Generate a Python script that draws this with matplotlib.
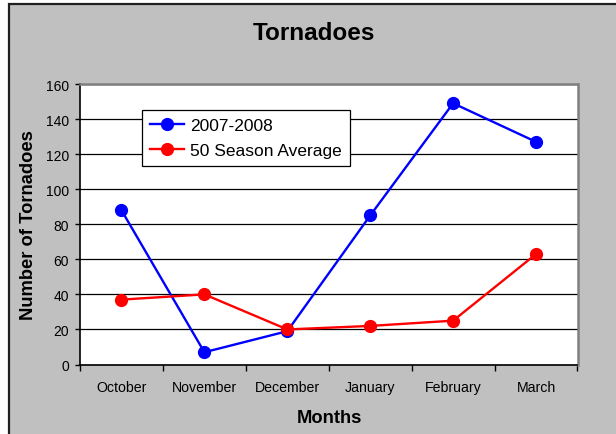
import numpy as np
import matplotlib
matplotlib.use('Agg')
import matplotlib.pyplot as plt
from matplotlib.patches import Rectangle

plt.rcParams['font.family'] = ['Liberation Sans', 'DejaVu Sans']

months = ['October', 'November', 'December', 'January', 'February', 'March']
season_0708 = [88, 7, 19, 85, 149, 127]
season_avg = [37, 40, 20, 22, 25, 63]

W, H = 616, 435
fig = plt.figure(figsize=(W / 100, H / 100), dpi=100)
fig.patch.set_facecolor('white')

# grey chart area with dark frame (only top/left edges visible)
bg = Rectangle((9 / W, -0.05), 1.1, (H - 5) / H + 0.05, transform=fig.transFigure,
               facecolor='#c0c0c0', edgecolor='#202020', linewidth=1.6, zorder=-10)
fig.patches.append(bg)

ax = fig.add_axes([80 / W, (H - 365.5) / H, 497.5 / W, 280.5 / H])
ax.set_facecolor('white')

x = np.arange(len(months)) + 0.5
ax.plot(x, season_0708, color='#0000ff', lw=1.7, marker='o', ms=8.5,
        label='2007-2008', zorder=3)
ax.plot(x, season_avg, color='#ff0000', lw=1.7, marker='o', ms=8.5,
        label='50 Season Average', zorder=3)

ax.set_xlim(0, len(months))
ax.set_ylim(0, 160)
ax.set_yticks(np.arange(0, 161, 20))
ax.yaxis.grid(True, color='black', lw=0.9)
ax.set_axisbelow(True)

# category boundaries get the ticks, labels sit between them
ax.set_xticks(np.arange(0, len(months) + 1))
ax.set_xticklabels([])
ax.set_xticks(x, minor=True)
ax.set_xticklabels(months, minor=True)
ax.tick_params(axis='x', which='minor', length=0, pad=11.5, labelsize=10.2)
ax.tick_params(axis='x', which='major', length=4, width=1, direction='out')
ax.tick_params(axis='y', length=3.5, width=1, direction='out', pad=4.5, labelsize=10)

for s in ['left', 'bottom']:
    ax.spines[s].set_color('black')
    ax.spines[s].set_linewidth(1.2)
for s in ['top', 'right']:
    ax.spines[s].set_color('#808080')
    ax.spines[s].set_linewidth(1.8)

leg = ax.legend(loc='upper left', bbox_to_anchor=(0.124, 0.908), fontsize=12.5,
                frameon=True, fancybox=False, framealpha=1, edgecolor='black',
                borderpad=0.45, handlelength=2.0, handletextpad=0.35,
                labelspacing=0.6, borderaxespad=0)
leg.get_frame().set_linewidth(0.9)

fig.text(314 / W, (H - 33) / H, 'Tornadoes', ha='center', va='center',
         fontsize=17.5, fontweight='bold')
fig.text(329 / W, (H - 419) / H, 'Months', ha='center', va='center',
         fontsize=13.2, fontweight='bold')
fig.text(29 / W, (H - 225) / H, 'Number of Tornadoes', ha='center', va='center',
         rotation=90, fontsize=13.2, fontweight='bold')

fig.savefig('out.png', dpi=100)
